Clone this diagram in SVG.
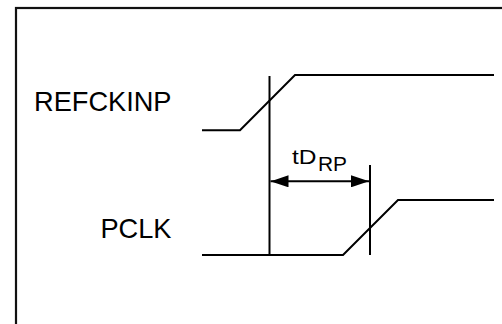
<svg xmlns="http://www.w3.org/2000/svg" width="502" height="324" viewBox="0 0 502 324">
  <style>
    .w { fill: none; stroke: #000; stroke-width: 2; }
    .lbl { font-family: "Liberation Sans", Arial, sans-serif; fill: #000; }
  </style>
  <defs>
    <marker id="ah" viewBox="0 0 18 12" refX="18" refY="6" markerWidth="18" markerHeight="12" markerUnits="userSpaceOnUse" orient="auto-start-reverse">
      <path d="M0,0 L18,6 L0,12 Z" fill="#000"/>
    </marker>
  </defs>
  <rect x="16" y="8" width="500" height="330" fill="#fff" stroke="#111" stroke-width="2.2"/>
  <g id="refckinp">
    <text class="lbl" x="34" y="110.5" font-size="27.2">REFCKINP</text>
    <polyline class="w" points="202,130.3 240,130.3 295,75 494,75"/>
  </g>
  <g id="pclk">
    <text class="lbl" x="171.5" y="237.5" font-size="27.2" text-anchor="end">PCLK</text>
    <polyline class="w" points="202,255 343,255 398,200 494,200"/>
  </g>
  <g id="connectors">
    <line class="w" x1="269.5" y1="76" x2="269.5" y2="255"/>
    <line class="w" x1="370" y1="165" x2="370" y2="255"/>
    <line class="w" x1="270.5" y1="181.3" x2="369" y2="181.3" marker-start="url(#ah)" marker-end="url(#ah)"/>
  </g>
  <g id="tdrp">
    <text class="lbl" x="292" y="164" font-size="20.5" textLength="24.5" lengthAdjust="spacingAndGlyphs">tD</text>
    <text class="lbl" x="318" y="171" font-size="20.5" textLength="29" lengthAdjust="spacingAndGlyphs">RP</text>
  </g>
</svg>
